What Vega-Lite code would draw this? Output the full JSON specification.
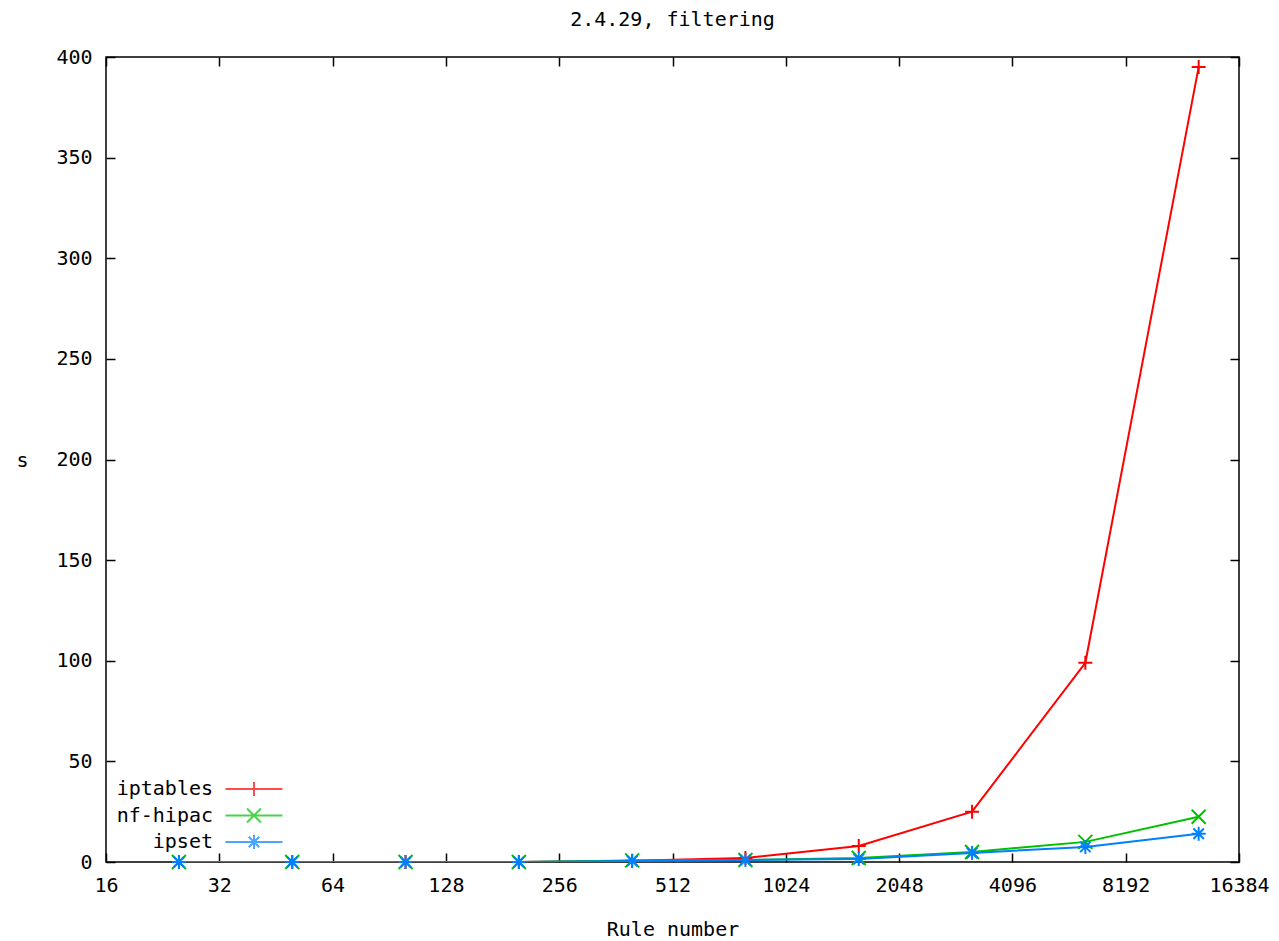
{
  "$schema": "https://vega.github.io/schema/vega-lite/v6.json",
  "width": 1133,
  "height": 805,
  "autosize": "none",
  "padding": {"left": 106, "top": 57, "right": 40, "bottom": 79},
  "title": {"text": "2.4.29, filtering", "font": "DejaVu Sans Mono", "fontSize": 20, "fontWeight": "normal", "color": "#000", "offset": 17, "anchor": "middle"},
  "config": {
    "view": {"stroke": "#000", "strokeWidth": 1.5},
    "font": "DejaVu Sans Mono",
    "axis": {"labelFont": "DejaVu Sans Mono", "labelFontSize": 20, "labelColor": "#000", "titleFont": "DejaVu Sans Mono", "titleFontSize": 20, "titleFontWeight": "normal", "titleColor": "#000", "tickColor": "#000", "tickWidth": 1.5, "grid": false, "domain": false}
  },
  "data": {"values": [
    {"n": 25, "series": "iptables", "s": 0}, {"n": 50, "series": "iptables", "s": 0}, {"n": 100, "series": "iptables", "s": 0}, {"n": 200, "series": "iptables", "s": 0}, {"n": 400, "series": "iptables", "s": 0.6}, {"n": 800, "series": "iptables", "s": 2}, {"n": 1600, "series": "iptables", "s": 8}, {"n": 3200, "series": "iptables", "s": 25}, {"n": 6400, "series": "iptables", "s": 99}, {"n": 12800, "series": "iptables", "s": 395},
    {"n": 25, "series": "nf-hipac", "s": 0}, {"n": 50, "series": "nf-hipac", "s": 0}, {"n": 100, "series": "nf-hipac", "s": 0}, {"n": 200, "series": "nf-hipac", "s": 0}, {"n": 400, "series": "nf-hipac", "s": 0.8}, {"n": 800, "series": "nf-hipac", "s": 1}, {"n": 1600, "series": "nf-hipac", "s": 2}, {"n": 3200, "series": "nf-hipac", "s": 5}, {"n": 6400, "series": "nf-hipac", "s": 10}, {"n": 12800, "series": "nf-hipac", "s": 22.5},
    {"n": 25, "series": "ipset", "s": 0}, {"n": 50, "series": "ipset", "s": 0}, {"n": 100, "series": "ipset", "s": 0}, {"n": 200, "series": "ipset", "s": 0}, {"n": 400, "series": "ipset", "s": 0.5}, {"n": 800, "series": "ipset", "s": 1}, {"n": 1600, "series": "ipset", "s": 1.5}, {"n": 3200, "series": "ipset", "s": 4.5}, {"n": 6400, "series": "ipset", "s": 7.5}, {"n": 12800, "series": "ipset", "s": 14}
  ]},
  "resolve": {"scale": {"shape": "independent", "color": "independent"}},
  "layer": [
    {
      "mark": {"type": "line", "strokeWidth": 2, "clip": true},
      "encoding": {
        "x": {"field": "n", "type": "quantitative", "scale": {"type": "log", "base": 2, "domain": [16, 16384], "nice": false},
              "axis": {"orient": "bottom", "values": [16, 32, 64, 128, 256, 512, 1024, 2048, 4096, 8192, 16384], "format": "d", "tickSize": -9, "labelPadding": 22, "labelFlush": false, "labelOverlap": false, "title": "Rule number", "titleY": 67, "titleBaseline": "middle"}},
        "y": {"field": "s", "type": "quantitative", "scale": {"domain": [0, 400], "nice": false, "zero": false},
              "axis": {"orient": "left", "values": [0, 50, 100, 150, 200, 250, 300, 350, 400], "format": "d", "tickSize": -9, "labelPadding": 23, "labelFlush": false, "labelOverlap": false, "title": "s", "titleAngle": 0, "titleX": -84, "titleY": 403, "titleAlign": "center", "titleBaseline": "middle"}},
        "color": {"field": "series", "type": "nominal", "scale": {"domain": ["iptables", "nf-hipac", "ipset"], "range": ["#ff0000", "#00c000", "#0080ff"]}, "legend": null},
        "order": {"field": "n", "type": "quantitative"}
      }
    },
    {
      "mark": {"type": "point", "filled": false, "size": 196, "strokeWidth": 2, "opacity": 1},
      "encoding": {
        "x": {"field": "n", "type": "quantitative", "axis": {"orient": "top", "values": [16, 32, 64, 128, 256, 512, 1024, 2048, 4096, 8192, 16384], "tickSize": -9, "labels": false, "title": null}},
        "y": {"field": "s", "type": "quantitative", "axis": {"orient": "right", "values": [0, 50, 100, 150, 200, 250, 300, 350, 400], "tickSize": -9, "labels": false, "title": null}},
        "color": {"field": "series", "type": "nominal", "scale": {"domain": ["iptables", "nf-hipac", "ipset"], "range": ["#ff0000", "#00c000", "#0080ff"]}, "legend": null},
        "shape": {"field": "series", "type": "nominal", "scale": {"domain": ["iptables", "nf-hipac", "ipset"], "range": ["M-1,0L1,0M0,-1L0,1", "M-1,-1L1,1M-1,1L1,-1", "M-1,0L1,0M0,-1L0,1M-0.75,-0.75L0.75,0.75M-0.75,0.75L0.75,-0.75"]}, "legend": null}
      }
    },
    {
      "transform": [{"filter": "datum.s < 0"}],
      "mark": {"type": "point", "filled": false, "size": 196, "strokeWidth": 2},
      "encoding": {
        "x": {"field": "n", "type": "quantitative", "axis": null},
        "y": {"field": "s", "type": "quantitative", "axis": null},
        "color": {"field": "series", "type": "nominal", "scale": {"domain": ["iptables", "nf-hipac", "ipset"], "range": ["#ff0000", "#00c000", "#0080ff"]},
                  "legend": {"title": null, "orient": "none", "legendX": 138, "legendY": 722, "labelFontSize": 20, "labelFont": "DejaVu Sans Mono", "labelColor": "#000", "labelAlign": "right", "labelOffset": -51, "symbolSize": 196, "symbolStrokeWidth": 2, "rowPadding": 4.5, "padding": 0}},
        "shape": {"field": "series", "type": "nominal", "scale": {"domain": ["iptables", "nf-hipac", "ipset"], "range": ["M-4.07,0L4.07,0M0,-1L0,1", "M-4.07,0L4.07,0M-1,-1L1,1M-1,1L1,-1", "M-4.07,0L4.07,0M0,-1L0,1M-0.75,-0.75L0.75,0.75M-0.75,0.75L0.75,-0.75"]},
                  "legend": {"title": null, "orient": "none", "legendX": 138, "legendY": 722, "labelFontSize": 20, "labelFont": "DejaVu Sans Mono", "labelColor": "#000", "labelAlign": "right", "labelOffset": -51, "symbolSize": 196, "symbolStrokeWidth": 2, "rowPadding": 4.5, "padding": 0}}
      }
    }
  ]
}
